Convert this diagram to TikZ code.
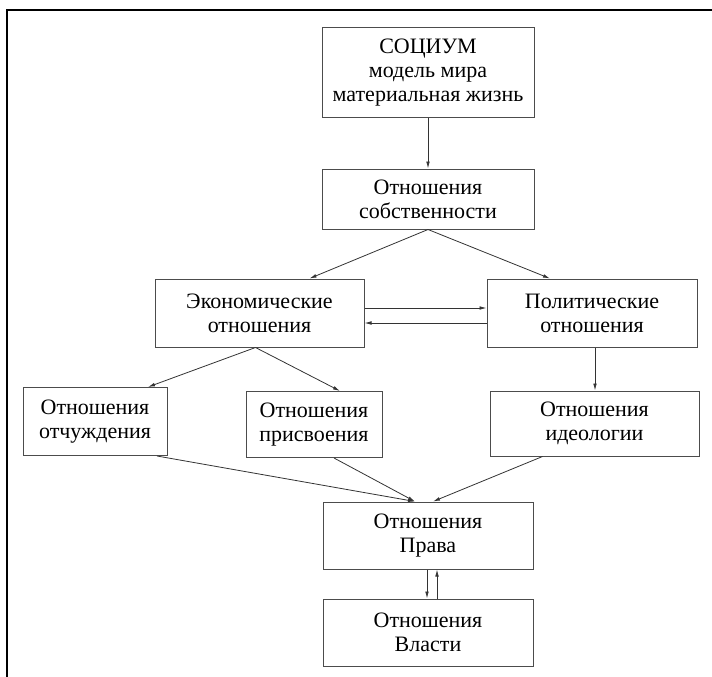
\documentclass[tikz,border=0pt]{standalone}
\usepackage{fontspec}
\newfontfamily\boxfont{Liberation Serif}
\usetikzlibrary{arrows.meta}

\tikzset{
  box/.style={draw=black!70, line width=1pt, align=center, inner sep=2pt,
    font=\boxfont\fontsize{22}{24}\selectfont},
  arr/.style={draw=black!80, line width=0.8pt, -{Latex[length=7pt,width=3.6pt]}}
}

\begin{document}
\begin{tikzpicture}[x=1pt,y=-1pt]
\useasboundingbox (0,0) rectangle (712,677);
% frame lines at top and left
\draw [line width=1.2pt] (712,10) -- (7,10) -- (7,677);

% boxes
\node[box, minimum width=212, minimum height=89] (soc) at (428,72.5) {СОЦИУМ\\модель мира\\материальная жизнь};
\node[box, minimum width=212, minimum height=60] (sobs) at (428,199) {Отношения\\собственности};
\node[box, minimum width=209, minimum height=68] (econ) at (259.5,313) {Экономические\\отношения};
\node[box, minimum width=210, minimum height=68] (pol) at (592,313) {Политические\\отношения};
\node[box, minimum width=144, minimum height=68] (otch) at (95,421.5) {Отношения\\отчуждения};
\node[box, minimum width=136, minimum height=66] (pris) at (314,424.5) {Отношения\\присвоения};
\node[box, minimum width=209, minimum height=65] (ideo) at (594.5,423.5) {Отношения\\идеологии};
\node[box, minimum width=210, minimum height=67] (prava) at (428,535.5) {Отношения\\Права};
\node[box, minimum width=210, minimum height=67] (vlast) at (428,632.5) {Отношения\\Власти};

% arrows
\draw [arr] (soc.south) -- (sobs.north);
\draw [arr] (sobs.south) -- ([xshift=50]econ.north);
\draw [arr] (sobs.south) -- ([xshift=-42]pol.north);
\draw [arr] ([yshift=5]econ.east) -- ([yshift=5]pol.west);
\draw [arr] ([yshift=-10]pol.west) -- ([yshift=-10]econ.east);
\draw [arr] ([xshift=-4]econ.south) -- ([xshift=53]otch.north);
\draw [arr] ([xshift=-4]econ.south) -- ([xshift=26]pris.north);
\draw [arr] ([xshift=3]pol.south) -- ([xshift=3]pol.south |- ideo.north);
\draw [arr] ([xshift=62]otch.south) -- ([xshift=-13]prava.north);
\draw [arr] ([xshift=20]pris.south) -- ([xshift=-13]prava.north);
\draw [arr] ([xshift=-52]ideo.south) -- ([xshift=5]prava.north);
\draw [arr] ([xshift=-1]prava.south) -- ([xshift=-1]vlast.north);
\draw [arr] ([xshift=9]vlast.north) -- ([xshift=9]prava.south);
\end{tikzpicture}
\end{document}
